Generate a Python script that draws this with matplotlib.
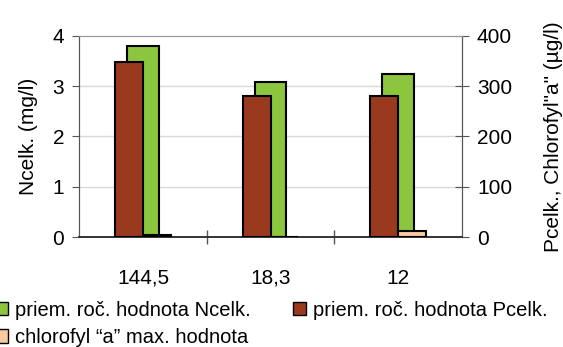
import numpy as np
import matplotlib.pyplot as plt
from matplotlib.patches import Patch

plt.rcParams['font.family'] = ['Liberation Sans', 'DejaVu Sans']

# Sampling sites and measured values
categories = ["144,5", "18,3", "12"]
n_total = [3.8, 3.08, 3.23]       # mg/l, left axis
p_total = [347, 280, 280]         # ug/l, right axis
chl_max = [3, 0, 12.5]            # ug/l, right axis

green = "#8cc63e"
brown = "#993a1e"
peach = "#f9c9a0"

fig = plt.figure(figsize=(5.63, 3.47), dpi=100)
ax = fig.add_axes([0.141, 0.317, 0.679, 0.580])
ax2 = ax.twinx()

x = np.arange(len(categories))

ax.bar(x, n_total, width=0.245, color=green, edgecolor="black", linewidth=1.5, zorder=2)
ax2.bar(x - 0.109, p_total, width=0.218, color=brown, edgecolor="black", linewidth=1.5, zorder=3)
ax2.bar(x + 0.109, chl_max, width=0.218, color=peach, edgecolor="black", linewidth=1.5, zorder=3)

ax.set_xlim(-0.5, 2.5)
ax.set_ylim(0, 4)
ax2.set_ylim(0, 400)
ax.set_yticks([0, 1, 2, 3, 4])
ax2.set_yticks([0, 100, 200, 300, 400])

# horizontal grid
for v in [1, 2, 3]:
    ax.axhline(v, color="#d9d9d9", linewidth=1, zorder=0)

# category labels, ticks at the boundaries
ax.set_xticks(x)
ax.set_xticklabels(categories, fontsize=15)
ax.tick_params(axis="x", length=0, pad=23)
ax.set_xticks([0.5, 1.5], minor=True)
ax.tick_params(axis="x", which="minor", direction="inout", length=10, width=1, color="#555555")

ax.tick_params(axis="y", labelsize=15, direction="out", length=5, pad=6, color="#555555")
ax2.tick_params(axis="y", labelsize=15, direction="inout", length=10, pad=6, color="#555555")

for a in (ax, ax2):
    a.spines["top"].set_color("#999999")
    a.spines["left"].set_color("#555555")
    a.spines["right"].set_color("#555555")
    a.spines["bottom"].set_color("#333333")
    a.spines["bottom"].set_linewidth(1.2)

ax.set_ylabel("Ncelk. (mg/l)", fontsize=15, labelpad=10)
ax2.set_ylabel('Pcelk., Chlorofyl"a" (µg/l)', fontsize=15, labelpad=23)

handles = [
    Patch(facecolor=green, edgecolor="black", label="priem. roč. hodnota Ncelk."),
    Patch(facecolor=peach, edgecolor="black", label="chlorofyl “a” max. hodnota"),
    Patch(facecolor=brown, edgecolor="black", label="priem. roč. hodnota Pcelk."),
]
fig.legend(handles=handles, loc="upper left", bbox_to_anchor=(-0.009, 0.134), ncol=2,
           frameon=False, fontsize=14.5, handlelength=0.65, handleheight=0.65,
           handletextpad=0.35, columnspacing=2.1, labelspacing=0.42,
           borderpad=0, borderaxespad=0)

plt.savefig("out.png", dpi=100)
